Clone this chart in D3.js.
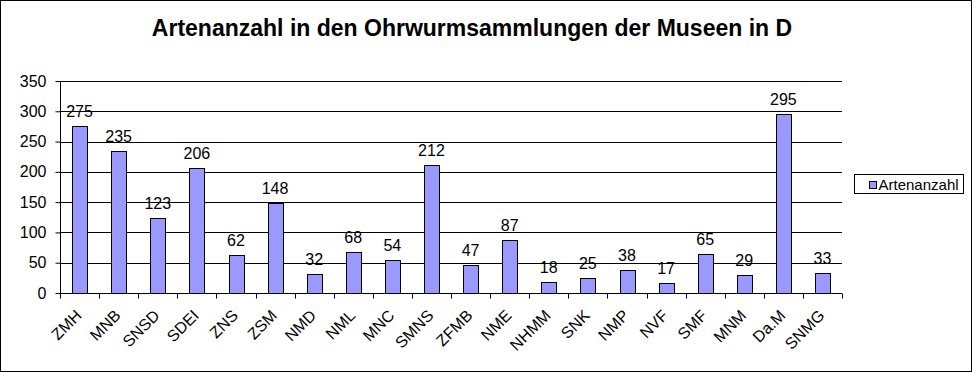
<!DOCTYPE html>
<html>
<head>
<meta charset="utf-8">
<script src="https://cdn.jsdelivr.net/npm/d3@7"></script>
<style>
  body { margin: 0; background: #fff; }
  text { font-family: "Liberation Sans", Arial, sans-serif; fill: #000; }
</style>
</head>
<body>
<div id="chart"></div>
<script>
  // data
  const museums = ["ZMH", "MNB", "SNSD", "SDEI", "ZNS", "ZSM", "NMD", "NML", "MNC", "SMNS",
    "ZFMB", "NME", "NHMM", "SNK", "NMP", "NVF", "SMF", "MNM", "Da.M", "SNMG"];
  const artenanzahl = [275, 235, 123, 206, 62, 148, 32, 68, 54, 212, 47, 87, 18, 25, 38, 17, 65, 29, 295, 33];
  const yTicks = [0, 50, 100, 150, 200, 250, 300, 350];
  const seriesName = "Artenanzahl";
  const title = "Artenanzahl in den Ohrwurmsammlungen der Museen in D";

  const width = 972,
    height = 372,
    margin = { top: 81, bottom: 79, left: 60, right: 130 };

  const data = museums.map((m, i) => ({ museum: m, value: artenanzahl[i] }));

  const svg = d3.select("#chart")
    .append("svg")
    .attr("width", width)
    .attr("height", height);

  // outer frame
  svg.append("rect")
    .attr("x", 0.5).attr("y", 0.5)
    .attr("width", width - 1).attr("height", height - 1)
    .attr("fill", "#fff")
    .attr("stroke", "#000");

  svg.append("text")
    .attr("x", 472)
    .attr("y", 36)
    .attr("text-anchor", "middle")
    .style("font-size", "23px")
    .style("font-weight", "bold")
    .text(title);

  const xScale = d3.scaleBand()
    .domain(museums)
    .range([margin.left, width - margin.right]);

  const yScale = d3.scaleLinear()
    .domain([0, 350])
    .range([height - margin.bottom, margin.top]);

  // gridlines
  svg.append("g")
    .selectAll("line")
    .data(yTicks.filter(d => d > 0))
    .join("line")
    .attr("x1", margin.left)
    .attr("x2", width - margin.right)
    .attr("y1", d => Math.round(yScale(d)) + 0.5)
    .attr("y2", d => Math.round(yScale(d)) + 0.5)
    .attr("stroke", "#000");

  // y axis
  const yAxis = d3.axisLeft(yScale)
    .tickValues(yTicks)
    .tickSize(5)
    .tickPadding(9);

  const gy = svg.append("g")
    .attr("transform", `translate(${margin.left + 0.5},0)`)
    .call(yAxis);
  gy.select(".domain").attr("stroke", "#000").attr("d", `M0,${yScale(350)}V${yScale(0)}`);
  gy.selectAll(".tick line").attr("stroke", "#000");
  gy.selectAll("text")
    .style("font-size", "16px")
    .style("font-family", "'Liberation Sans', Arial, sans-serif");

  // bars
  const barW = xScale.bandwidth() * 0.38;
  svg.append("g")
    .selectAll("rect")
    .data(data)
    .join("rect")
    .attr("x", d => Math.round(xScale(d.museum) + (xScale.bandwidth() - barW) / 2) + 0.5)
    .attr("y", d => Math.round(yScale(d.value)) + 0.5)
    .attr("width", Math.round(barW))
    .attr("height", d => Math.round(yScale(0)) - Math.round(yScale(d.value)))
    .attr("fill", "#9999ff")
    .attr("stroke", "#000");

  // value labels
  svg.append("g")
    .selectAll("text")
    .data(data)
    .join("text")
    .attr("x", d => xScale(d.museum) + xScale.bandwidth() / 2)
    .attr("y", d => yScale(d.value) - 9)
    .attr("text-anchor", "middle")
    .style("font-size", "16px")
    .text(d => d.value);

  // x axis: ticks between categories
  const y0 = Math.round(yScale(0)) + 0.5;
  const bounds = d3.range(museums.length + 1).map(i => margin.left + i * xScale.step());
  svg.append("line")
    .attr("x1", margin.left).attr("x2", width - margin.right)
    .attr("y1", y0).attr("y2", y0)
    .attr("stroke", "#000");
  svg.append("g")
    .selectAll("line")
    .data(bounds)
    .join("line")
    .attr("x1", d => Math.round(d) + 0.5)
    .attr("x2", d => Math.round(d) + 0.5)
    .attr("y1", y0)
    .attr("y2", y0 + 5)
    .attr("stroke", "#000");

  svg.append("g")
    .selectAll("text")
    .data(museums)
    .join("text")
    .attr("transform", d => `translate(${xScale(d) + xScale.bandwidth() / 2 + 3},${y0 + 23}) rotate(-45)`)
    .attr("text-anchor", "end")
    .style("font-size", "16px")
    .text(d => d);

  // legend
  const legend = svg.append("g").attr("transform", "translate(854.5,174.5)");
  legend.append("rect")
    .attr("width", 109).attr("height", 19)
    .attr("fill", "#fff").attr("stroke", "#000");
  legend.append("rect")
    .attr("x", 15).attr("y", 7)
    .attr("width", 7).attr("height", 7)
    .attr("fill", "#9999ff").attr("stroke", "#000");
  legend.append("text")
    .attr("x", 24).attr("y", 15)
    .style("font-size", "15px")
    .text(seriesName);
</script>
</body>
</html>
